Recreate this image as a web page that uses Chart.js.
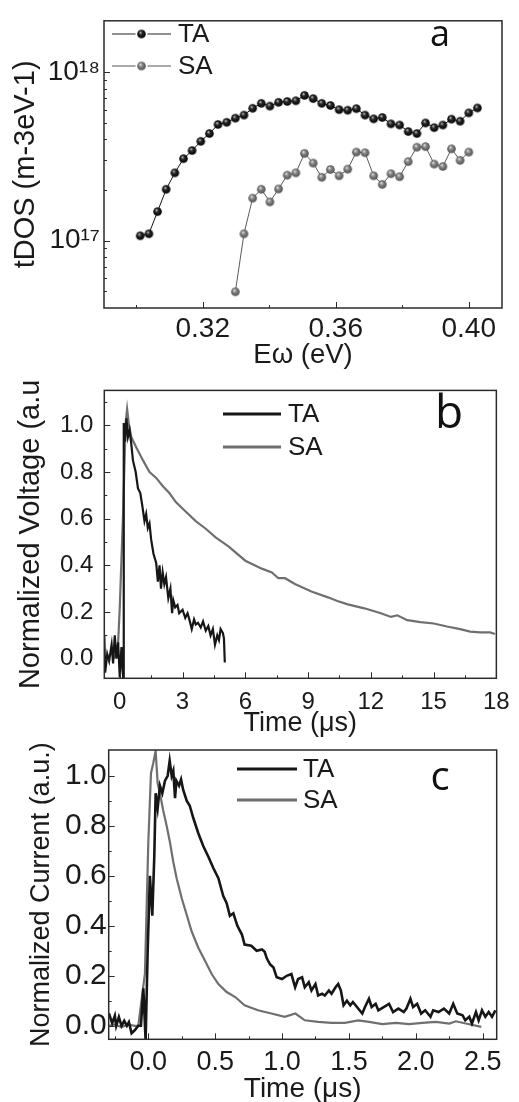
<!DOCTYPE html>
<html>
<head>
<meta charset="utf-8">
<script src="https://cdn.jsdelivr.net/npm/chart.js@4.4.0/dist/chart.umd.min.js"></script>
<style>
  body { margin: 0; background: #fff; width: 519px; height: 1102px; position: relative; overflow: hidden; }
  canvas { position: absolute; left: 0; }
</style>
</head>
<body>
<canvas id="pa" width="519" height="375" style="top:0"></canvas>
<canvas id="pb" width="519" height="380" style="top:365px"></canvas>
<canvas id="pc" width="519" height="380" style="top:730px"></canvas>
<script>
// ---- panel a: tDOS vs E (log y), values in 1e17 m-3eV-1
const aTaE = [0.3012, 0.3038, 0.3064, 0.3090, 0.3116, 0.3142, 0.3168, 0.3194, 0.3220, 0.3246,
  0.3272, 0.3298, 0.3324, 0.3350, 0.3376, 0.3402, 0.3428, 0.3454, 0.3480, 0.3506,
  0.3532, 0.3558, 0.3584, 0.3610, 0.3636, 0.3662, 0.3688, 0.3714, 0.3740, 0.3766,
  0.3792, 0.3818, 0.3844, 0.3870, 0.3896, 0.3922, 0.3948, 0.3974, 0.4000, 0.4026];
const aTaDos = [1.07, 1.10, 1.49, 2.02, 2.53, 3.07, 3.43, 3.89, 4.33, 4.90,
  5.05, 5.34, 5.57, 6.11, 6.54, 6.30, 6.63, 6.71, 6.77, 7.29,
  6.98, 6.54, 6.35, 6.00, 5.95, 6.08, 5.57, 5.29, 5.39, 4.94,
  4.86, 4.45, 4.33, 5.00, 4.69, 4.86, 5.27, 5.12, 5.74, 6.14];
const aSaE = [0.3298, 0.3324, 0.3350, 0.3376, 0.3402, 0.3428, 0.3454, 0.3480, 0.3506, 0.3532,
  0.3558, 0.3584, 0.3610, 0.3636, 0.3662, 0.3688, 0.3714, 0.3740, 0.3766, 0.3792,
  0.3818, 0.3844, 0.3870, 0.3896, 0.3922, 0.3948, 0.3974, 0.4000];
const aSaDos = [0.498, 1.10, 1.79, 2.02, 1.70, 2.03, 2.45, 2.53, 3.30, 2.89,
  2.38, 2.65, 2.43, 2.66, 3.36, 3.33, 2.43, 2.16, 2.50, 2.40,
  2.95, 3.59, 3.62, 2.85, 2.76, 3.51, 3.00, 3.36];
const aXMajor = [0.32, 0.36, 0.40];
const aXLabels = ['0.32', '0.36', '0.40'];
const aXMinor = [0.30, 0.34, 0.38];
const aYMajor = [1e17, 1e18];
const aYLabels = ['10\u00B9\u2077', '10\u00B9\u2078'];
const aYMinor = [5e16, 6e16, 7e16, 8e16, 9e16, 2e17, 3e17, 4e17, 5e17, 6e17, 7e17, 8e17, 9e17];

// ---- panel b: normalized voltage vs time (us)
const bTaT = [-0.74, -0.70, -0.60, -0.51, -0.39, -0.32, -0.24, -0.16, -0.08, 0.0,
  0.08, 0.16, 0.19, 0.25, 0.32, 0.39, 0.47, 0.55, 0.63, 0.76,
  0.87, 0.98, 1.07, 1.18, 1.26, 1.34, 1.42, 1.50, 1.61, 1.74,
  1.82, 1.90, 1.97, 2.05, 2.13, 2.21, 2.32, 2.42, 2.50, 2.56,
  2.65, 2.76, 2.84, 3.00, 3.13, 3.24, 3.35, 3.44, 3.55, 3.63,
  3.74, 3.87, 3.98, 4.11, 4.23, 4.34, 4.45, 4.55, 4.66, 4.74,
  4.82, 4.93, 4.98, 5.02];
const bTaV = [0.10, -0.06, 0.02, -0.01, 0.06, -0.02, 0.10, 0.0, 0.07, -0.08,
  0.05, -0.08, 1.01, 0.93, 1.03, 0.95, 0.98, 0.92, 0.85, 0.80,
  0.73, 0.71, 0.66, 0.59, 0.62, 0.56, 0.58, 0.51, 0.45, 0.41,
  0.33, 0.40, 0.30, 0.37, 0.32, 0.35, 0.26, 0.30, 0.195, 0.25,
  0.22, 0.23, 0.195, 0.21, 0.175, 0.195, 0.16, 0.127, 0.168, 0.147,
  0.154, 0.134, 0.16, 0.12, 0.14, 0.10, 0.127, 0.06, 0.10, 0.08,
  0.127, 0.11, 0.086, -0.016];
const bSaT = [-0.30, -0.10, 0.0, 0.16, 0.28, 0.35, 0.44, 0.55, 0.79, 1.11,
  1.42, 1.74, 2.05, 2.37, 2.69, 3.16, 3.63, 4.11, 4.58, 5.06,
  5.21, 6.0, 6.79, 7.27, 7.58, 7.9, 8.37, 9.16, 9.95, 10.4,
  10.9, 11.69, 12.48, 12.96, 13.27, 13.74, 14.37, 15.01, 15.64, 16.27,
  16.75, 17.22, 17.7, 17.93];
const bSaV = [0.0, 0.03, 0.22, 0.63, 1.01, 1.07, 1.0, 0.95, 0.905, 0.85,
  0.80, 0.775, 0.74, 0.71, 0.67, 0.63, 0.59, 0.557, 0.52, 0.49,
  0.48, 0.42, 0.386, 0.37, 0.345, 0.345, 0.32, 0.288, 0.263, 0.247,
  0.233, 0.216, 0.195, 0.179, 0.186, 0.165, 0.157, 0.151, 0.138, 0.127,
  0.116, 0.113, 0.113, 0.106];
const bXMajor = [0, 3, 6, 9, 12, 15, 18];
const bXLabels = ['0', '3', '6', '9', '12', '15', '18'];
const bXMinor = [1.5, 4.5, 7.5, 10.5, 13.5, 16.5];
const bYMajor = [0.0, 0.2, 0.4, 0.6, 0.8, 1.0];
const bYLabels = ['0.0', '0.2', '0.4', '0.6', '0.8', '1.0'];
const bYMinor = [0.1, 0.3, 0.5, 0.7, 0.9, 1.1];

// ---- panel c: normalized current vs time (us)
const cTaT = [-0.294, -0.27, -0.25, -0.24, -0.22, -0.20, -0.18, -0.16, -0.145, -0.125,
  -0.10, -0.075, -0.055, -0.037, -0.02, -0.005, 0.012, 0.03, 0.045, 0.055,
  0.07, 0.087, 0.105, 0.125, 0.145, 0.16, 0.175, 0.187, 0.20, 0.21,
  0.23, 0.245, 0.26, 0.287, 0.31, 0.337, 0.374, 0.41, 0.45, 0.487,
  0.524, 0.56, 0.586, 0.61, 0.636, 0.666, 0.70, 0.72, 0.77, 0.81,
  0.85, 0.87, 0.886, 0.91, 0.936, 0.96, 1.0, 1.035, 1.07, 1.098,
  1.12, 1.15, 1.17, 1.20, 1.22, 1.25, 1.27, 1.30, 1.32, 1.35,
  1.37, 1.40, 1.42, 1.44, 1.46, 1.485, 1.51, 1.53, 1.56, 1.60,
  1.62, 1.65, 1.67, 1.70, 1.72, 1.76, 1.80, 1.83, 1.87, 1.91,
  1.93, 1.96, 1.98, 2.01, 2.04, 2.07, 2.11, 2.13, 2.17, 2.21,
  2.25, 2.28, 2.31, 2.35, 2.37, 2.40, 2.42, 2.45, 2.47, 2.495,
  2.52, 2.545, 2.57, 2.595];
const cTaV = [0.05, 0.01, 0.04, 0.0, 0.035, 0.0, 0.02, 0.0, 0.015, -0.03,
  -0.017, 0.0, 0.0, 0.15, -0.06, 0.29, 0.60, 0.44, 0.68, 0.93,
  0.87, 0.96, 0.93, 0.98, 1.0, 1.06, 1.0, 1.02, 0.91, 0.98,
  0.96, 0.985, 0.945, 0.90, 0.88, 0.83, 0.77, 0.72, 0.675, 0.63,
  0.59, 0.52, 0.49, 0.44, 0.45, 0.40, 0.365, 0.325, 0.32, 0.30,
  0.305, 0.296, 0.27, 0.246, 0.233, 0.194, 0.187, 0.20, 0.207, 0.154,
  0.187, 0.194, 0.154, 0.174, 0.141, 0.167, 0.121, 0.128, 0.121, 0.141,
  0.128, 0.154, 0.167, 0.141, 0.082, 0.10, 0.082, 0.095, 0.075, 0.049,
  0.075, 0.108, 0.075, 0.088, 0.062, 0.075, 0.088, 0.055, 0.069, 0.055,
  0.069, 0.108, 0.075, 0.088, 0.049, 0.062, 0.036, 0.062, 0.055, 0.069,
  0.049, 0.088, 0.049, 0.042, 0.022, 0.036, 0.009, 0.055, 0.022, 0.062,
  0.036, 0.055, 0.036, 0.062];
const cSaT = [-0.294, -0.25, -0.20, -0.15, -0.10, -0.075, -0.025, 0.0, 0.02, 0.037,
  0.055, 0.07, 0.087, 0.11, 0.137, 0.162, 0.187, 0.212, 0.25, 0.287,
  0.324, 0.374, 0.424, 0.474, 0.524, 0.586, 0.65, 0.72, 0.82, 0.92,
  1.02, 1.10, 1.17, 1.27, 1.37, 1.47, 1.57, 1.65, 1.75, 1.85,
  1.95, 2.05, 2.15, 2.25, 2.30, 2.39, 2.49];
const cSaV = [0.0, 0.005, -0.005, 0.005, 0.0, 0.0, 0.21, 0.73, 1.01, 1.05,
  1.10, 0.97, 0.93, 0.865, 0.80, 0.734, 0.655, 0.59, 0.51, 0.444,
  0.378, 0.312, 0.26, 0.207, 0.167, 0.135, 0.115, 0.082, 0.062, 0.049,
  0.036, 0.049, 0.022, 0.016, 0.012, 0.012, 0.022, 0.016, 0.007, 0.012,
  0.007, 0.012, 0.016, 0.009, 0.018, 0.007, -0.004];
const cXMajor = [0.0, 0.5, 1.0, 1.5, 2.0, 2.5];
const cXLabels = ['0.0', '0.5', '1.0', '1.5', '2.0', '2.5'];
const cXMinor = [-0.25, 0.25, 0.75, 1.25, 1.75, 2.25];
const cYMajor = [0.0, 0.2, 0.4, 0.6, 0.8, 1.0];
const cYLabels = ['0.0', '0.2', '0.4', '0.6', '0.8', '1.0'];
const cYMinor = [0.1, 0.3, 0.5, 0.7, 0.9];

const FONT = "'Liberation Sans', Arial, sans-serif";
const INK = '#1a1a1a';
const BLACK = '#161616';
const GREY = '#6f6f6f';

function pts(xs, ys, k) {
  return xs.map((x, i) => ({ x: x, y: ys[i] * (k || 1) }));
}

function same(a, b) {
  return Math.abs(a - b) <= 1e-9 * Math.max(1, Math.abs(a));
}

// shaded sphere used as the point marker in panel a
function ball(r, light, mid, dark) {
  const c = document.createElement('canvas');
  const s = Math.ceil(2 * r + 2);
  c.width = c.height = s;
  const g = c.getContext('2d');
  const grad = g.createRadialGradient(s / 2 - r * 0.3, s / 2 - r * 0.4, 0, s / 2, s / 2, r);
  grad.addColorStop(0, light);
  grad.addColorStop(0.4, mid);
  grad.addColorStop(1, dark);
  g.fillStyle = grad;
  g.beginPath();
  g.arc(s / 2, s / 2, r, 0, Math.PI * 2);
  g.fill();
  return c;
}
const ballTA = ball(4.3, '#dcdcdc', '#2a2a2a', '#000');
const ballSA = ball(4.3, '#f2f2f2', '#8c8c8c', '#4c4c4c');

function axis(type, min, max, major, labels, minor, o) {
  return {
    type: type, min: min, max: max,
    afterBuildTicks: s => {
      s.ticks = major.concat(minor).sort((p, q) => p - q).map(v => ({ value: v }));
    },
    afterFit: o.fit,
    grid: { display: false, drawTicks: false },
    border: { display: false },
    ticks: {
      autoSkip: false, maxRotation: 0, padding: o.pad, color: INK,
      font: { family: FONT, size: o.size },
      callback: v => {
        const i = major.findIndex(m => same(m, v));
        return i < 0 ? '' : labels[i];
      }
    },
    title: { display: true, text: o.title, color: INK, font: { family: FONT, size: o.tsize }, padding: o.tpad }
  };
}

// frame, inward ticks, legend and panel letter
const deco = {
  id: 'deco',
  afterDatasetsDraw(chart, args, o) {
    const ctx = chart.ctx, a = chart.chartArea;
    const xs = chart.scales.x, ys = chart.scales.y;
    ctx.save();
    ctx.strokeStyle = '#2b2b2b';
    ctx.lineWidth = 1;
    xs.ticks.forEach(t => {
      const p = Math.round(xs.getPixelForValue(t.value)) + 0.5;
      if (p < a.left + 1 || p > a.right - 1) return;
      const len = t.label !== '' ? 6 : 3;
      ctx.beginPath(); ctx.moveTo(p, a.bottom); ctx.lineTo(p, a.bottom - len); ctx.stroke();
    });
    ys.ticks.forEach(t => {
      const p = Math.round(ys.getPixelForValue(t.value)) + 0.5;
      if (p < a.top + 1 || p > a.bottom - 1) return;
      const len = t.label !== '' ? 6 : 3;
      ctx.beginPath(); ctx.moveTo(a.left, p); ctx.lineTo(a.left + len, p); ctx.stroke();
    });
    ctx.lineWidth = 1.5;
    ctx.strokeRect(a.left, a.top, a.right - a.left, a.bottom - a.top);

    const L = o.legend;
    ctx.font = L.size + 'px ' + FONT;
    ctx.textBaseline = 'middle';
    ctx.textAlign = 'left';
    L.items.forEach(it => {
      ctx.strokeStyle = it.color;
      ctx.lineWidth = L.width;
      ctx.beginPath();
      if (it.ball) {
        const mid = (L.x1 + L.x2) / 2;
        ctx.moveTo(L.x1, it.y); ctx.lineTo(mid - 6, it.y);
        ctx.moveTo(mid + 6, it.y); ctx.lineTo(L.x2, it.y);
        ctx.stroke();
        ctx.drawImage(it.ball, mid - it.ball.width / 2, it.y - it.ball.height / 2);
      } else {
        ctx.moveTo(L.x1, it.y); ctx.lineTo(L.x2, it.y);
        ctx.stroke();
      }
      ctx.fillStyle = INK;
      ctx.fillText(it.text, L.tx, it.y + 1);
    });

    ctx.fillStyle = '#111';
    ctx.font = o.letter.size + "px 'Open Sans', sans-serif";
    ctx.textAlign = 'center';
    ctx.textBaseline = 'alphabetic';
    ctx.fillText(o.letter.text, o.letter.x, o.letter.y);
    ctx.restore();
  }
};
Chart.register(deco);

function baseOptions(pad, decoOpts, scales) {
  return {
    responsive: false,
    animation: false,
    events: [],
    layout: { padding: pad },
    elements: { line: { tension: 0 } },
    plugins: { legend: { display: false }, tooltip: { enabled: false }, deco: decoOpts },
    scales: scales
  };
}

// panel a
new Chart(document.getElementById('pa'), {
  type: 'line',
  data: {
    datasets: [
      { label: 'TA', data: pts(aTaE, aTaDos, 1e17), borderColor: BLACK, borderWidth: 1,
        pointStyle: ballTA, pointRadius: 4.3, clip: 0 },
      { label: 'SA', data: pts(aSaE, aSaDos, 1e17), borderColor: '#5a5a5a', borderWidth: 1,
        pointStyle: ballSA, pointRadius: 4.3, clip: 0 }
    ]
  },
  options: baseOptions({ left: 0, right: 17, top: 6, bottom: 0 }, {
    legend: { x1: 112, x2: 171, tx: 178, size: 26, width: 1,
      items: [{ text: 'TA', y: 34, color: '#222', ball: ballTA }, { text: 'SA', y: 66, color: '#555', ball: ballSA }] },
    letter: { text: 'a', x: 440, y: 46, size: 36 }
  }, {
    x: axis('linear', 0.2903, 0.410, aXMajor, aXLabels, aXMinor,
      { fit: s => { s.height = 375 - 308; }, pad: 4, size: 28, title: 'E\u03C9 (eV)', tsize: 27.5, tpad: { top: 0, bottom: 3.5 } }),
    y: axis('logarithmic', 3.99e16, 2.02e18, aYMajor, aYLabels, aYMinor,
      { fit: s => { s.width = 104; }, pad: 4, size: 28, title: 'tDOS (m-3eV-1)', tsize: 29, tpad: { top: 8.6, bottom: 0 } })
  })
});

// panel b
new Chart(document.getElementById('pb'), {
  type: 'line',
  data: {
    datasets: [
      { label: 'TA', data: pts(bTaT, bTaV), borderColor: BLACK, borderWidth: 2.2, pointRadius: 0, clip: 0 },
      { label: 'SA', data: pts(bSaT, bSaV), borderColor: GREY, borderWidth: 2.2, pointRadius: 0, clip: 0 }
    ]
  },
  options: baseOptions({ left: 0, right: 20, top: 11.7, bottom: 0 }, {
    legend: { x1: 223, x2: 281, tx: 288, size: 26, width: 2.8,
      items: [{ text: 'TA', y: 49, color: BLACK }, { text: 'SA', y: 82, color: GREY }] },
    letter: { text: 'b', x: 449, y: 63, size: 46 }
  }, {
    x: axis('linear', -0.74, 18, bXMajor, bXLabels, bXMinor,
      { fit: s => { s.height = 380 - 313.3; }, pad: 9.3, size: 24, title: 'Time (\u03BCs)', tsize: 27, tpad: { top: 0, bottom: 4.8 } }),
    y: axis('linear', -0.084, 1.15, bYMajor, bYLabels, bYMinor,
      { fit: s => { s.width = 104.3; }, pad: 11, size: 24, title: 'Normalized Voltage (a.u', tsize: 29, tpad: { top: 13.6, bottom: 0 } })
  })
});

// panel c
new Chart(document.getElementById('pc'), {
  type: 'line',
  data: {
    datasets: [
      { label: 'TA', data: pts(cTaT, cTaV), borderColor: BLACK, borderWidth: 2.6, pointRadius: 0, clip: 0 },
      { label: 'SA', data: pts(cSaT, cSaV), borderColor: GREY, borderWidth: 2.2, pointRadius: 0, clip: 0 }
    ]
  },
  options: baseOptions({ left: 0, right: 22.3, top: 16.7, bottom: 0 }, {
    legend: { x1: 237, x2: 297, tx: 303, size: 26, width: 2.8,
      items: [{ text: 'TA', y: 39, color: BLACK }, { text: 'SA', y: 70, color: GREY }] },
    letter: { text: 'c', x: 440, y: 60, size: 40 }
  }, {
    x: axis('linear', -0.296, 2.605, cXMajor, cXLabels, cXMinor,
      { fit: s => { s.height = 380 - 309.3; }, pad: 7.2, size: 27, title: 'Time (\u03BCs)', tsize: 28, tpad: { top: 0, bottom: 4.2 } }),
    y: axis('linear', -0.054, 1.103, cYMajor, cYLabels, cYMinor,
      { fit: s => { s.width = 108.7; }, pad: 2, size: 30, title: 'Normalized Current (a.u.)', tsize: 27, tpad: { top: 25.8, bottom: 0 } })
  })
});
</script>
</body>
</html>
